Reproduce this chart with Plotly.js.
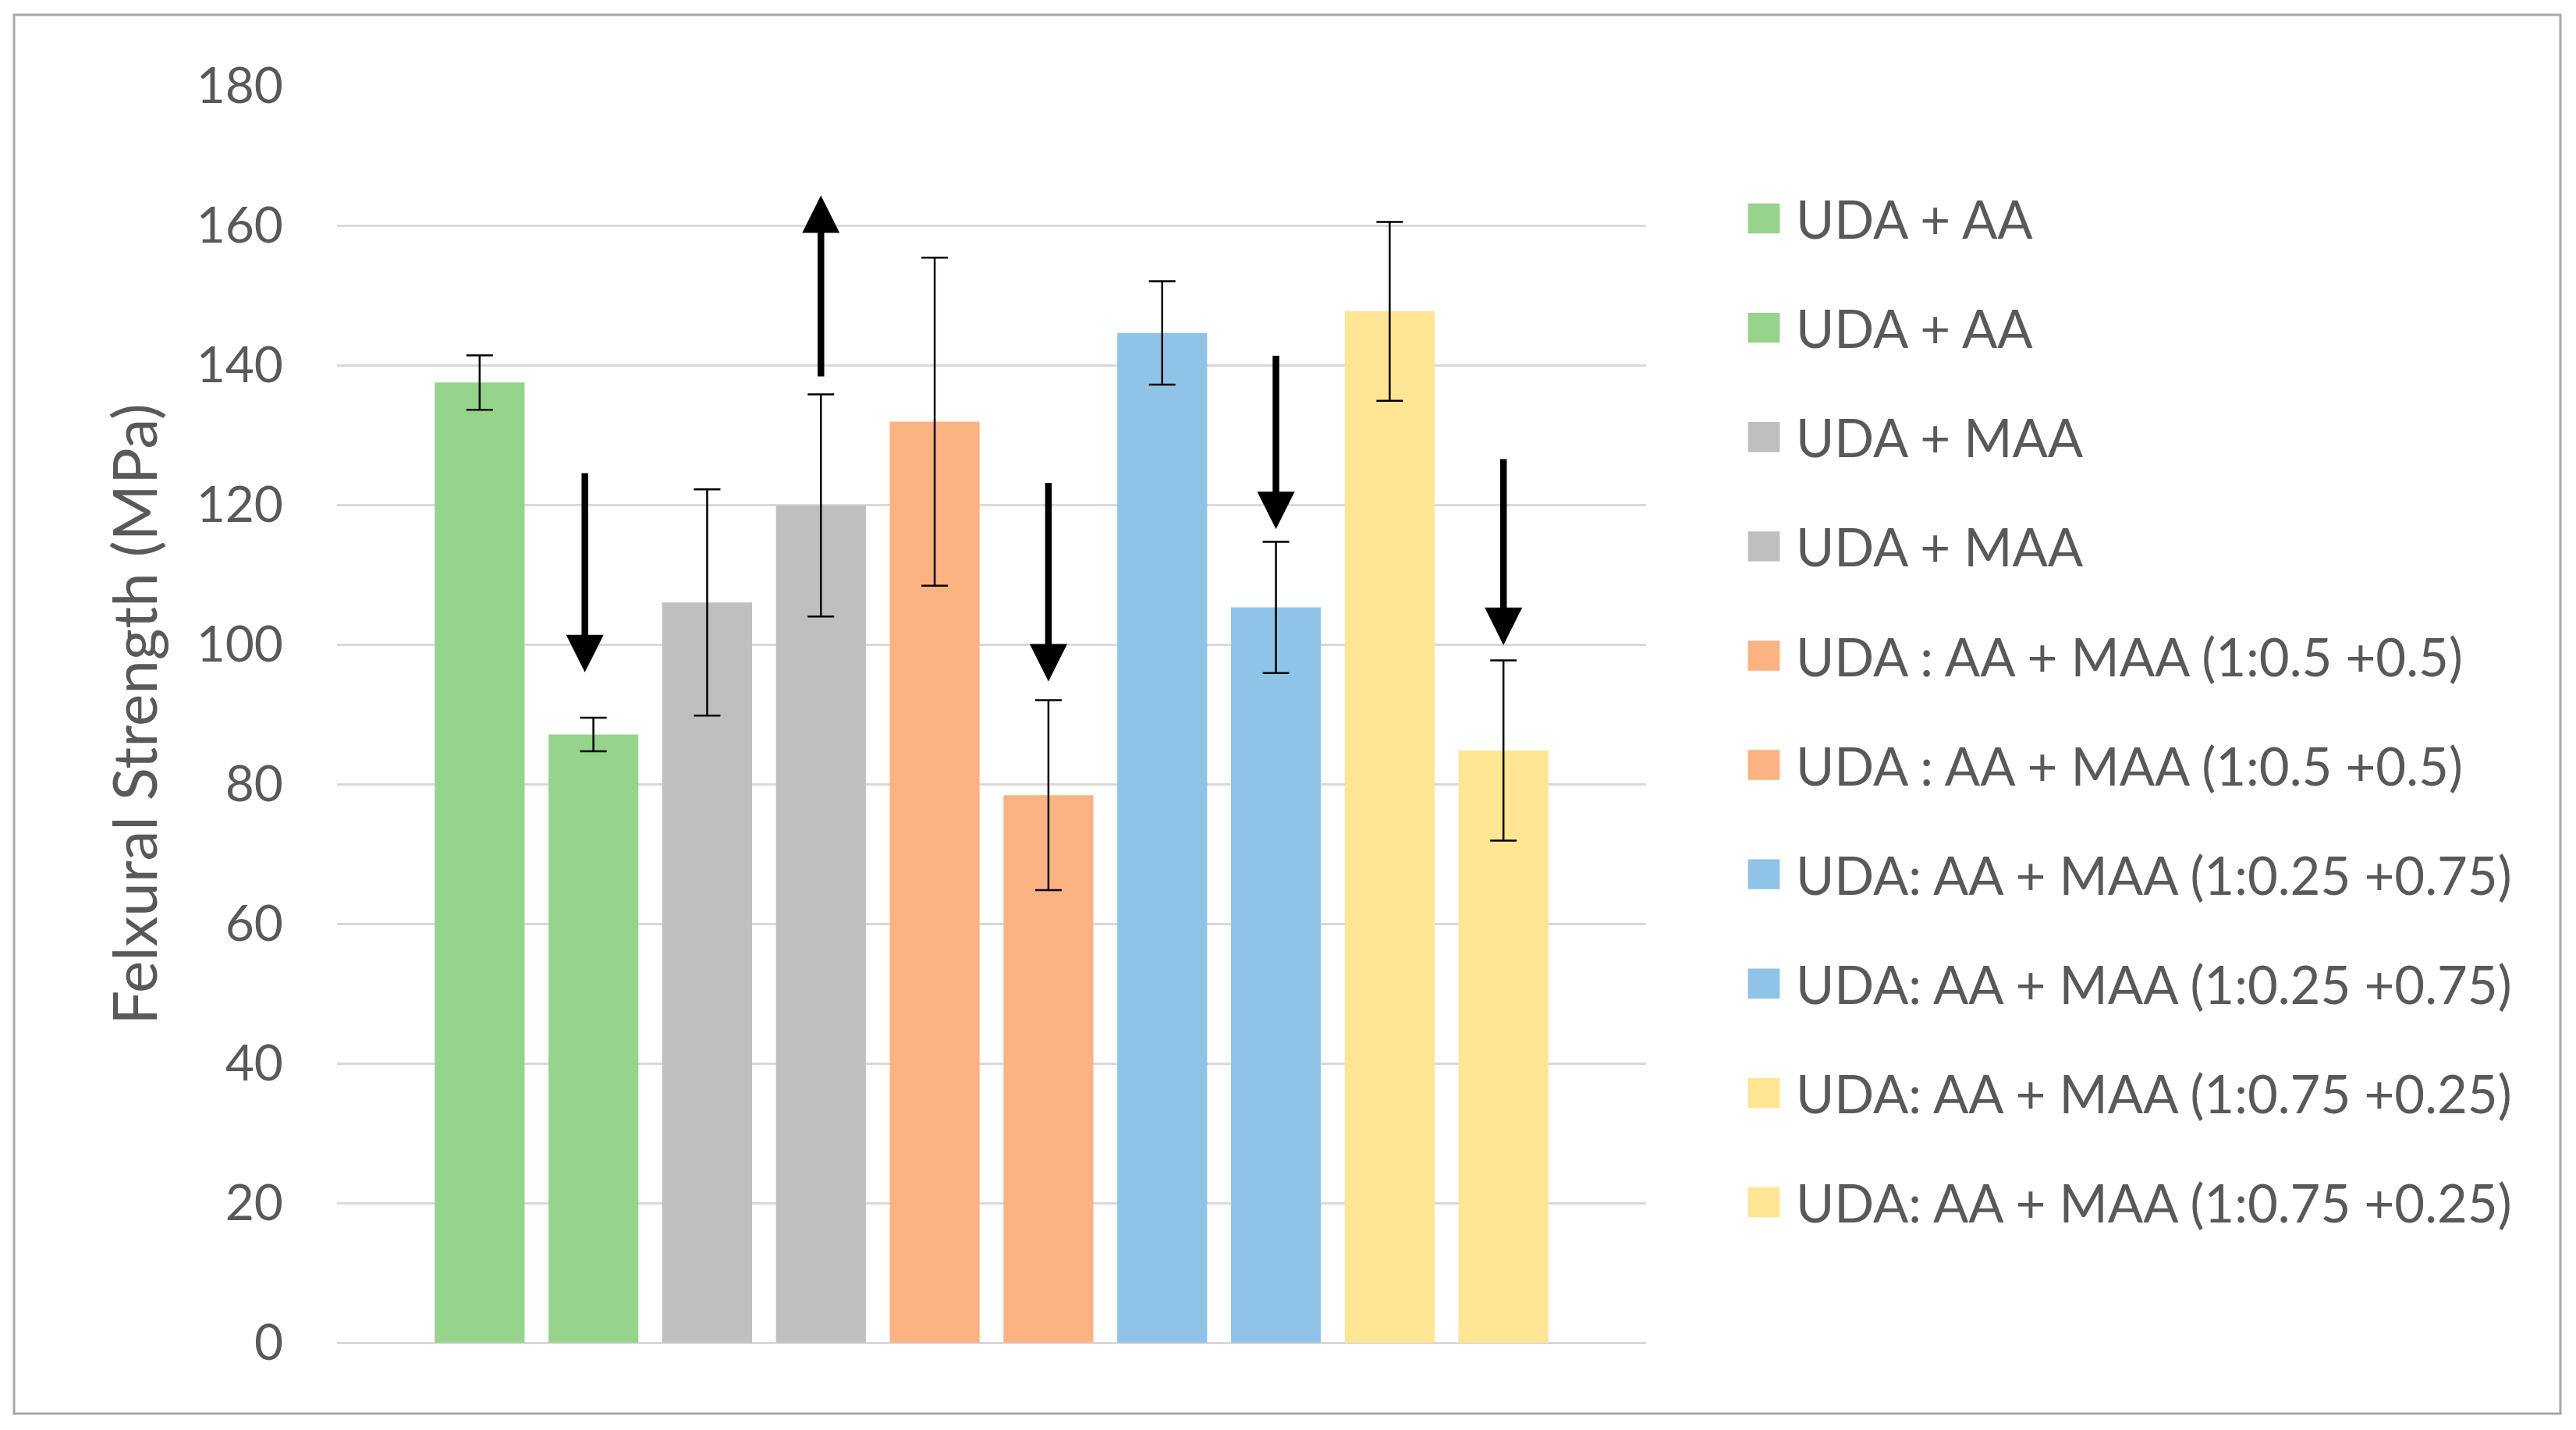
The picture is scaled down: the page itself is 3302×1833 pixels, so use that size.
<!DOCTYPE html>
<html>
<head>
<meta charset="utf-8">
<script src="https://cdn.plot.ly/plotly-3.0.1.min.js"></script>
<style>
  html, body { margin: 0; padding: 0; background: #ffffff; }
  #chart { width: 3302px; height: 1833px; }
</style>
</head>
<body>
<div id="chart"></div>
<script>
// ---- data ----
const seriesNames = [
  "UDA + AA",
  "UDA + AA",
  "UDA + MAA",
  "UDA + MAA",
  "UDA : AA + MAA (1:0.5 +0.5)",
  "UDA : AA + MAA (1:0.5 +0.5)",
  "UDA: AA + MAA (1:0.25 +0.75)",
  "UDA: AA + MAA (1:0.25 +0.75)",
  "UDA: AA + MAA (1:0.75 +0.25)",
  "UDA: AA + MAA (1:0.75 +0.25)"
];
const strengthMean = [137.5, 87.1, 106.0, 119.9, 131.9, 78.4, 144.6, 105.3, 147.7, 84.8];
const strengthErr  = [3.9, 2.4, 16.2, 15.9, 23.5, 13.6, 7.4, 9.4, 12.8, 12.9];
const seriesColors = ["#96d38b", "#96d38b", "#bfbfbf", "#bfbfbf", "#fdb282", "#fdb282",
                      "#8fc4e8", "#8fc4e8", "#ffe594", "#ffe594"];
const category = ["Flexural"];
// arrows drawn above bars: bar index, tail value, tip value
const arrowBar  = [1, 3, 5, 7, 9];
const arrowTail = [124.7, 138.2, 123.3, 141.5, 126.7];
const arrowTip  = [96.0, 164.3, 94.7, 116.5, 99.9];
const yTicks = [0, 20, 40, 60, 80, 100, 120, 140, 160, 180];

// ---- layout constants ----
const W = 3302, H = 1833;
const M = { l: 432, r: 1192, t: 110, b: 112 };
const plotW = W - M.l - M.r, plotH = H - M.t - M.b;
const BARGAP = 0.131, BARGROUPGAP = 0.21;
const textColor = "#595959";
const FONT = "Lato, 'Open Sans', sans-serif";
const arrowShift = [-0.075, 0, 0, 0, 0]; // horizontal nudge of each arrow, in bar slots

const traces = seriesNames.map((name, i) => ({
  type: "bar",
  name: name,
  x: category,
  y: [strengthMean[i]],
  legendgroup: "g" + i,
  marker: { color: seriesColors[i], line: { width: 0 } },
  error_y: { type: "data", array: [strengthErr[i]], visible: true,
             color: "#000000", thickness: 2.5, width: 17 },
  hoverinfo: "skip"
}));

const nS = seriesNames.length;
const slot = (1 - BARGAP) / nS;
function barCenter(i) { return -(1 - BARGAP) / 2 + (i + 0.5) * slot; }

const annotations = arrowBar.map((b, k) => ({
  x: barCenter(b) + arrowShift[k] * slot, y: arrowTip[k], xref: "x", yref: "y",
  ax: barCenter(b) + arrowShift[k] * slot, ay: arrowTail[k], axref: "x", ayref: "y",
  text: "", showarrow: true, arrowhead: 2, arrowsize: 1.13, arrowwidth: 8.5,
  arrowcolor: "#000000", standoff: 0, startstandoff: 0
}));

function px2paperX(px) { return (px - M.l) / plotW; }
function px2paperY(py) { return (H - M.b - py) / plotH; }

const layout = {
  width: W, height: H,
  margin: M,
  paper_bgcolor: "#ffffff",
  plot_bgcolor: "#ffffff",
  barmode: "group",
  bargap: BARGAP,
  bargroupgap: BARGROUPGAP,
  font: { family: FONT, color: textColor },
  showlegend: true,
  legend: {
    x: px2paperX(2220), xanchor: "left",
    y: px2paperY(230), yanchor: "top",
    font: { family: FONT, size: 67, color: textColor },
    itemwidth: 72,
    tracegroupgap: 50,
    traceorder: "grouped",
    bgcolor: "rgba(0,0,0,0)"
  },
  xaxis: {
    type: "category",
    showticklabels: false,
    showgrid: false,
    zeroline: false,
    showline: false,
    ticks: ""
  },
  yaxis: {
    range: [0, 180],
    tickvals: yTicks,
    ticktext: yTicks.map(String),
    showgrid: true,
    gridcolor: "#d9d9d9",
    gridwidth: 3,
    zeroline: true,
    zerolinecolor: "#d9d9d9",
    zerolinewidth: 3,
    showline: false,
    ticks: "",
    ticklabelstandoff: 68,
    tickfont: { family: FONT, size: 64, color: textColor },
    title: { text: "Felxural Strength (MPa)", font: { family: FONT, size: 78, color: textColor }, standoff: 24 }
  },
  annotations: annotations,
  shapes: [{
    type: "rect", xref: "paper", yref: "paper",
    x0: px2paperX(18), x1: px2paperX(3282),
    y0: px2paperY(1812), y1: px2paperY(19),
    line: { color: "#a8a8a8", width: 3 }, fillcolor: "rgba(0,0,0,0)", layer: "below"
  }]
};

Plotly.newPlot("chart", traces, layout, { staticPlot: true, displayModeBar: false }).then(gd => {
  gd.querySelectorAll(".legend .legendpoints path").forEach(p => {
    const t = p.getAttribute("transform") || "";
    p.setAttribute("transform", t + " scale(3.4,3.2)");
  });
});
</script>
</body>
</html>
